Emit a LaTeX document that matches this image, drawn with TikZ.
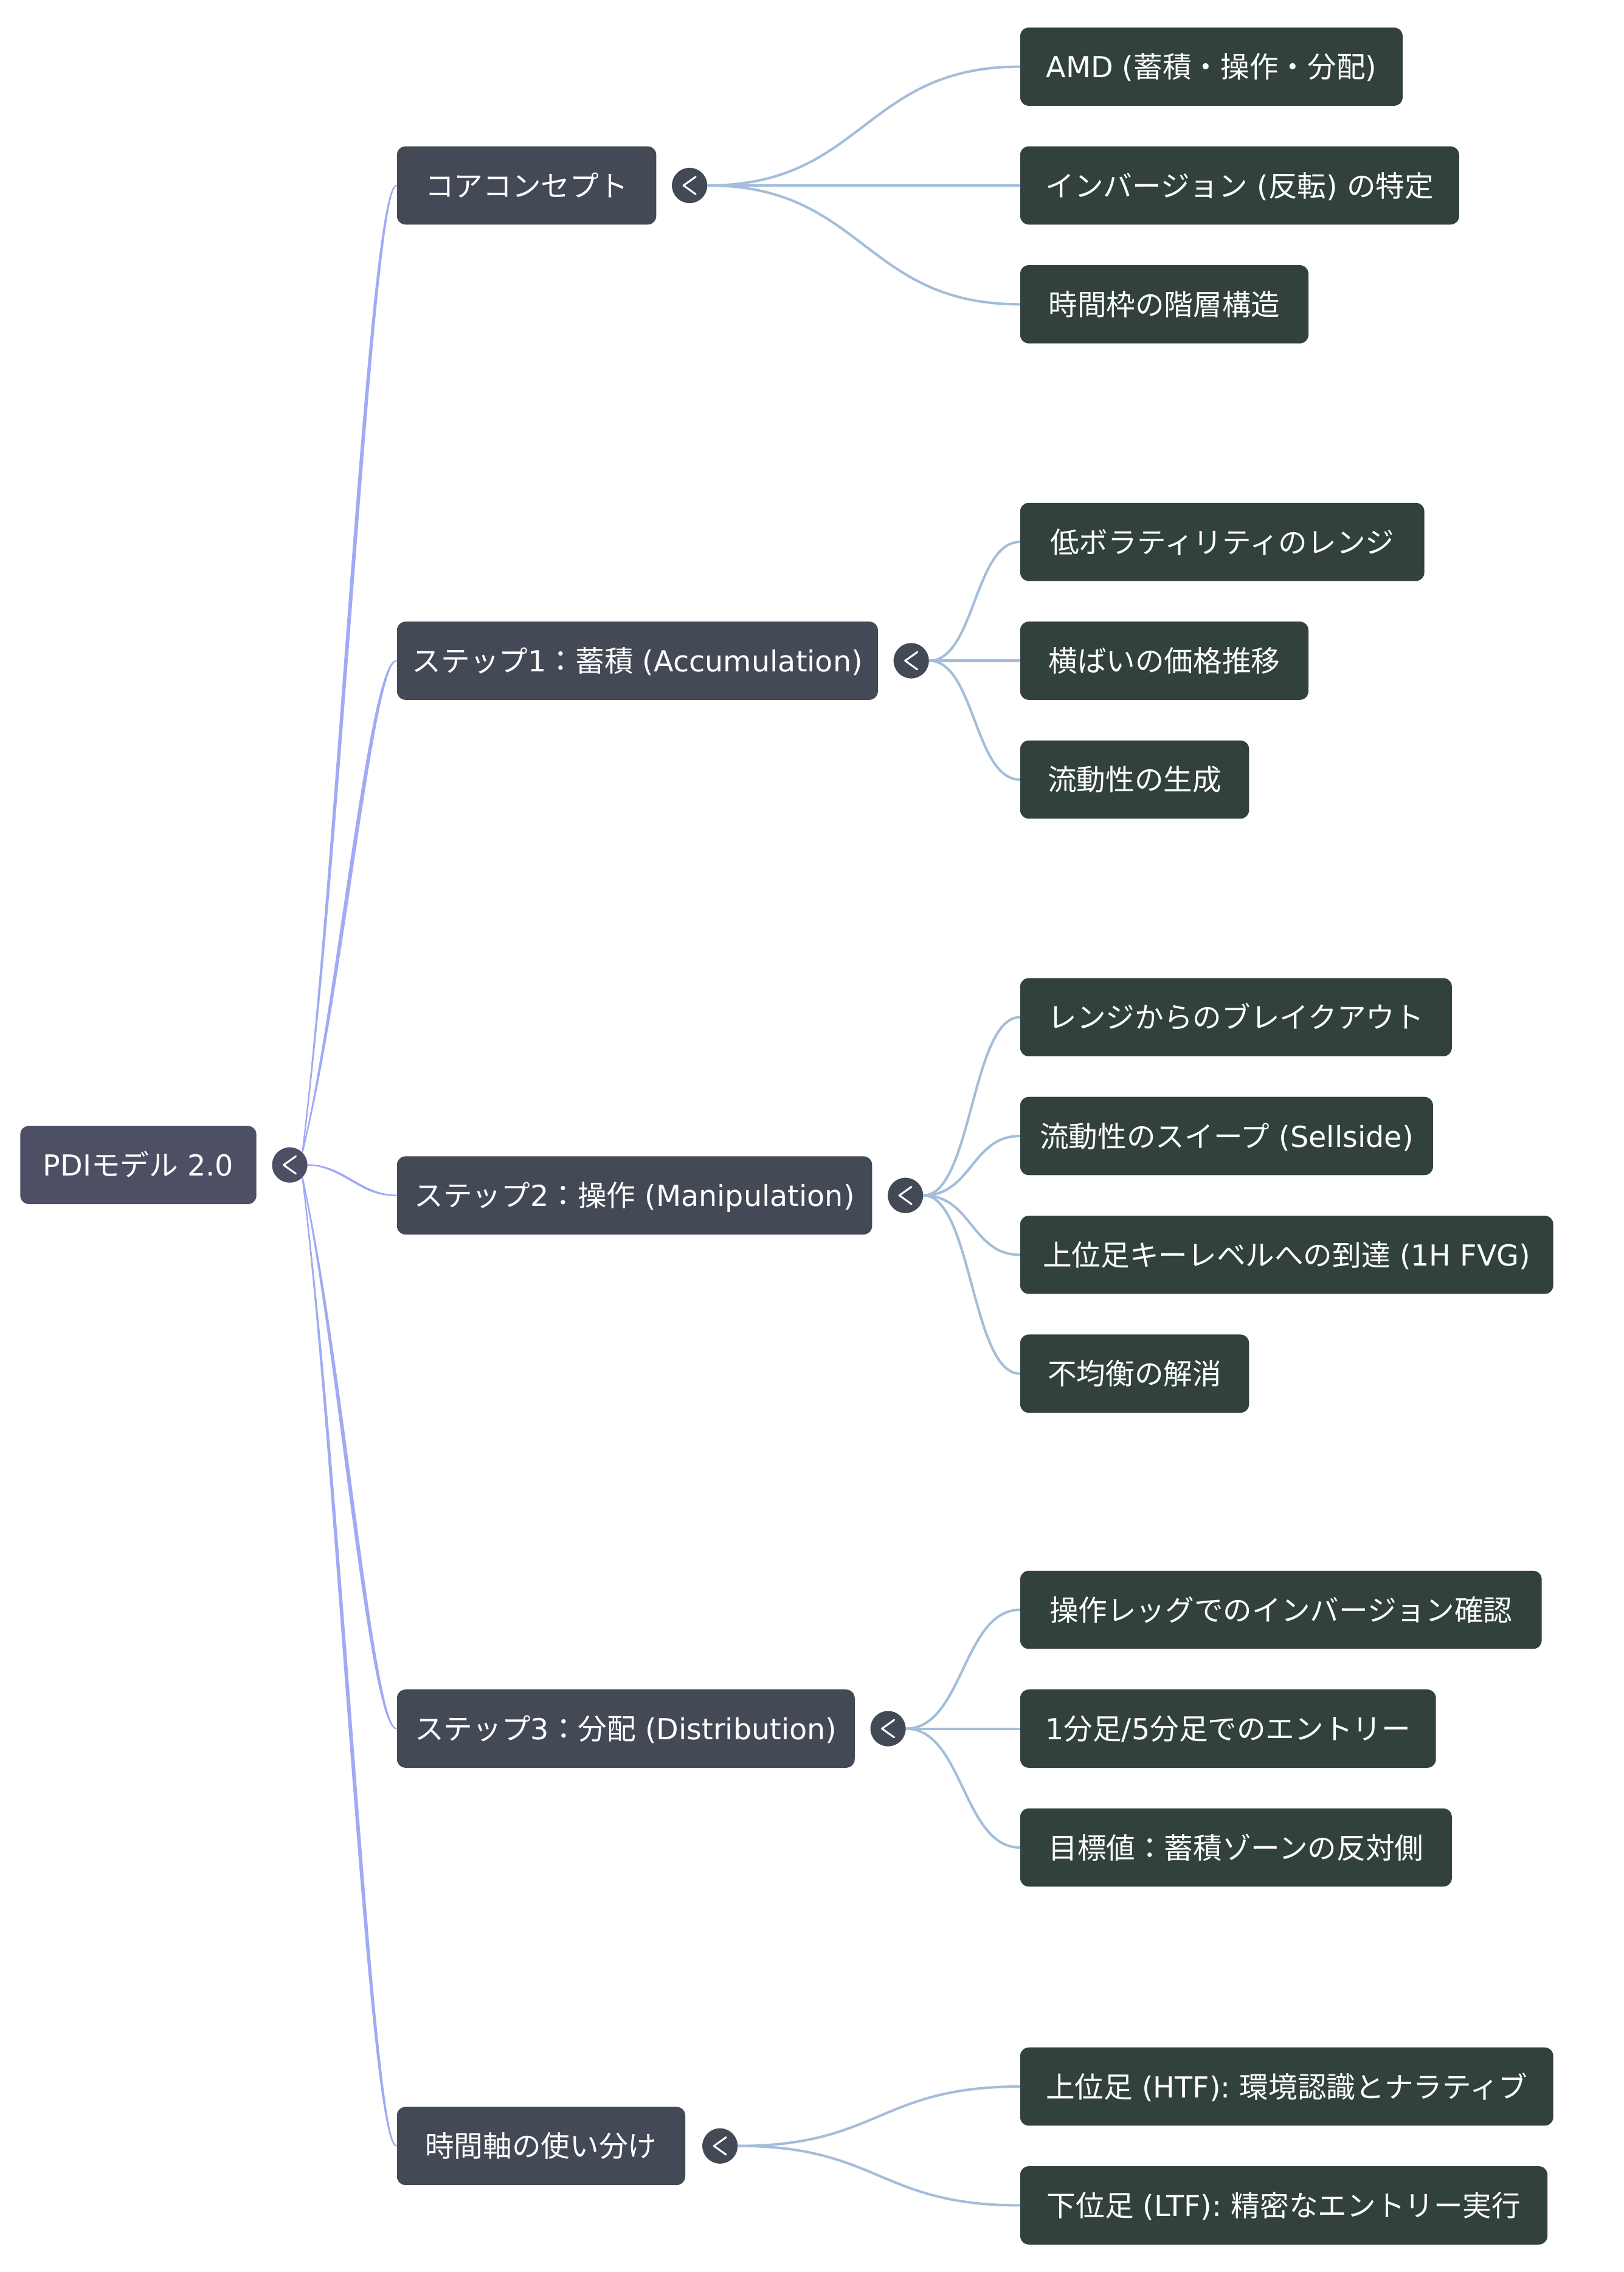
\documentclass[tikz,border=0pt]{standalone}
\usepackage{fontspec}
\setmainfont{Noto Sans CJK JP}
\newfontfamily\latf{DejaVu Sans}
\usetikzlibrary{backgrounds}
\definecolor{rootfill}{HTML}{4D5064}
\definecolor{mainfill}{HTML}{434A55}
\definecolor{leaffill}{HTML}{32413E}
\definecolor{rootline}{HTML}{A0AAF5}
\definecolor{leafline}{HTML}{A3BDDB}
\begin{document}
\begin{tikzpicture}[x=1pt,y=-1pt,
  box/.style={rounded corners=6pt, minimum height=54pt, inner sep=0pt, text=white,
    font=\fontsize{20}{24}\selectfont, text height=17.6pt, text depth=2.4pt},
  rootbox/.style={box, fill=rootfill},
  mainbox/.style={box, fill=mainfill},
  leafbox/.style={box, fill=leaffill, anchor=west},
  toggle/.style={circle, minimum size=24.4pt, inner sep=0pt},
  chev/.style={draw=white, line width=1.3pt, line cap=round, line join=round},
  subline/.style={draw=leafline, line width=1.7pt},
  mainline/.style={draw=rootline, line width=1pt},
  mainfillc/.style={fill=rootline},
]
\useasboundingbox (0,0) rectangle (1121,1568);

% root
\node[rootbox, minimum width=163pt] (root) at (95.5,804) {{\latf PDI}モデル{\latf\ 2.0}};
\node[toggle, fill=rootfill] (rc) at (200,804) {};

% main branches
\node[mainbox, minimum width=179pt] (core) at (363.5,128) {コアコンセプト};
\node[toggle, fill=mainfill] (cc) at (476,128) {};
\node[mainbox, minimum width=332pt] (s1) at (440,456) {ステップ{\latf 1}：蓄積{\latf\ (Accumulation)}};
\node[toggle, fill=mainfill] (c1) at (629,456) {};
\node[mainbox, minimum width=328pt] (s2) at (438,825) {ステップ{\latf 2}：操作{\latf\ (Manipulation)}};
\node[toggle, fill=mainfill] (c2) at (625,825) {};
\node[mainbox, minimum width=316pt] (s3) at (432,1193) {ステップ{\latf 3}：分配{\latf\ (Distribution)}};
\node[toggle, fill=mainfill] (c3) at (613,1193) {};
\node[mainbox, minimum width=199pt] (tax) at (373.5,1481) {時間軸の使い分け};
\node[toggle, fill=mainfill] (c4) at (497,1481) {};

\foreach \c in {rc,cc,c1,c2,c3,c4}
  \draw[chev] (\c.center) ++(4.2,-6) -- ++(-8.4,6) -- ++(8.4,6);

% leaves
\node[leafbox, minimum width=264pt] (l11) at (704,46) {{\latf AMD (}蓄積・操作・分配{\latf )}};
\node[leafbox, minimum width=303pt] (l12) at (704,128) {インバージョン{\latf\ (}反転{\latf ) }の特定};
\node[leafbox, minimum width=199pt] (l13) at (704,210) {時間枠の階層構造};

\node[leafbox, minimum width=279pt] (l21) at (704,374) {低ボラティリティのレンジ};
\node[leafbox, minimum width=199pt] (l22) at (704,456) {横ばいの価格推移};
\node[leafbox, minimum width=158pt] (l23) at (704,538) {流動性の生成};

\node[leafbox, minimum width=298pt] (l31) at (704,702) {レンジからのブレイクアウト};
\node[leafbox, minimum width=285pt] (l32) at (704,784) {流動性のスイープ{\latf\ (Sellside)}};
\node[leafbox, minimum width=368pt] (l33) at (704,866) {上位足キーレベルへの到達{\latf\ (1H FVG)}};
\node[leafbox, minimum width=158pt] (l34) at (704,948) {不均衡の解消};

\node[leafbox, minimum width=360pt] (l41) at (704,1111) {操作レッグでのインバージョン確認};
\node[leafbox, minimum width=287pt] (l42) at (704,1193) {{\latf 1}分足{\latf /5}分足でのエントリー};
\node[leafbox, minimum width=298pt] (l43) at (704,1275) {目標値：蓄積ゾーンの反対側};

\node[leafbox, minimum width=368pt] (l51) at (704,1440) {上位足{\latf\ (HTF): }環境認識とナラティブ};
\node[leafbox, minimum width=364pt] (l52) at (704,1522) {下位足{\latf\ (LTF): }精密なエントリー実行};

\begin{scope}[on background layer]
  \fill[white] (0,0) rectangle (1121,1568);
  % root -> main (tapered)
  \path[mainfillc] (rc.45) .. controls +(24,-194) and +(-19,0) .. (core.west)
      .. controls +(-16.5,2.5) and +(26.5,-191.5) .. (rc.45) -- cycle;
  \draw[mainline] (rc.45) .. controls +(24,-194) and +(-19,0) .. (core.west);
  \path[mainfillc] (rc.45) .. controls +(24,-98.5) and +(-19,0) .. (s1.west)
      .. controls +(-16.5,2.5) and +(26.5,-96) .. (rc.45) -- cycle;
  \draw[mainline] (rc.45) .. controls +(24,-98.5) and +(-19,0) .. (s1.west);
  \path[mainfillc] (rc.east) .. controls +(25,0) and +(-25,0) .. (s2.west)
      .. controls +(-24,2.2) and +(26,2.2) .. (rc.east) -- cycle;
  \draw[mainline] (rc.east) .. controls +(25,0) and +(-25,0) .. (s2.west);
  \path[mainfillc] (rc.-45) .. controls +(24,110) and +(-19,0) .. (s3.west)
      .. controls +(-16.5,-2.5) and +(26.5,107.5) .. (rc.-45) -- cycle;
  \draw[mainline] (rc.-45) .. controls +(24,110) and +(-19,0) .. (s3.west);
  \path[mainfillc] (rc.-45) .. controls +(24,194) and +(-19,0) .. (tax.west)
      .. controls +(-16.5,-2.5) and +(26.5,191.5) .. (rc.-45) -- cycle;
  \draw[mainline] (rc.-45) .. controls +(24,194) and +(-19,0) .. (tax.west);

  % main -> leaves
  \draw[subline] (cc.east) .. controls +(107.9,0) and +(-107.9,0) .. (l11.west);
  \draw[subline] (cc.east) -- (l12.west);
  \draw[subline] (cc.east) .. controls +(107.9,0) and +(-107.9,0) .. (l13.west);

  \draw[subline] (c1.east) .. controls +(31.4,0) and +(-31.4,0) .. (l21.west);
  \draw[subline] (c1.east) -- (l22.west);
  \draw[subline] (c1.east) .. controls +(31.4,0) and +(-31.4,0) .. (l23.west);

  \draw[subline] (c2.east) .. controls +(33.4,0) and +(-33.4,0) .. (l31.west);
  \draw[subline] (c2.east) .. controls +(33.4,0) and +(-33.4,0) .. (l32.west);
  \draw[subline] (c2.east) .. controls +(33.4,0) and +(-33.4,0) .. (l33.west);
  \draw[subline] (c2.east) .. controls +(33.4,0) and +(-33.4,0) .. (l34.west);

  \draw[subline] (c3.east) .. controls +(39.4,0) and +(-39.4,0) .. (l41.west);
  \draw[subline] (c3.east) -- (l42.west);
  \draw[subline] (c3.east) .. controls +(39.4,0) and +(-39.4,0) .. (l43.west);

  \draw[subline] (c4.east) .. controls +(97.4,0) and +(-97.4,0) .. (l51.west);
  \draw[subline] (c4.east) .. controls +(97.4,0) and +(-97.4,0) .. (l52.west);
\end{scope}
\end{tikzpicture}
\end{document}
